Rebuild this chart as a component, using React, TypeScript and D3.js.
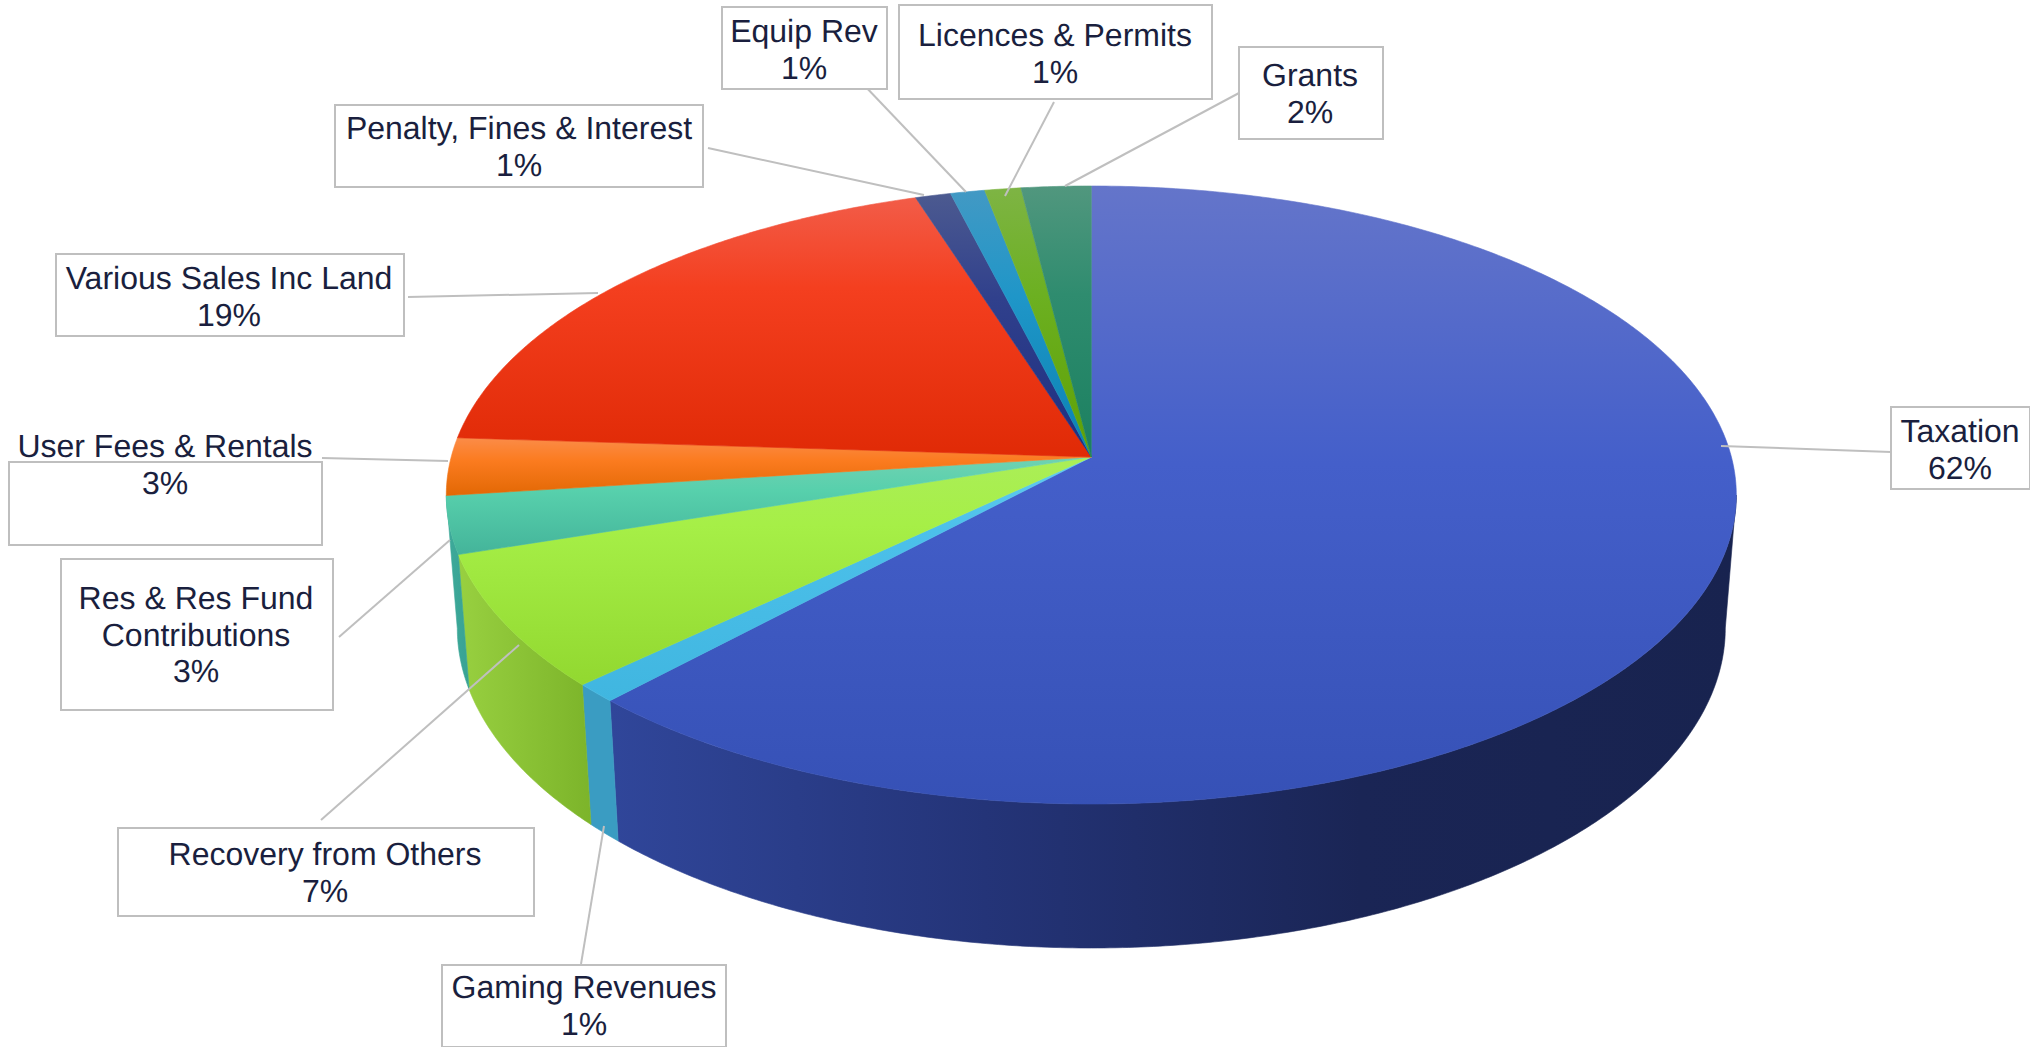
import React from "react";
import * as d3 from "d3";

// Revenue share by source, clockwise from twelve o'clock.
const categories = [
  "Taxation",
  "Gaming Revenues",
  "Recovery from Others",
  "Res & Res Fund Contributions",
  "User Fees & Rentals",
  "Various Sales Inc Land",
  "Penalty, Fines & Interest",
  "Equip Rev",
  "Licences & Permits",
  "Grants",
];
const shares = [62, 0.98, 7.03, 3, 3, 19.03, 1, 0.97, 1.02, 1.97];

// Colour ramps for each slice: top face [light, base, dark], rim [left ... right].
const faceRamps = [
  ["#6475ca", "#445fca", "#3651b6"],
  ["#62cdf0", "#4cc0ea", "#40b6e0"],
  ["#abee58", "#a6ef47", "#92d830"],
  ["#70d2b2", "#57d0ac", "#44b49a"],
  ["#fb8c48", "#fb7b1f", "#e26804"],
  ["#f25c48", "#f43f1f", "#e02a06"],
  ["#4c5a90", "#30408c", "#1d2e80"],
  ["#4299c4", "#1f96c8", "#0a82b2"],
  ["#7eb444", "#6cb021", "#5ea004"],
  ["#51977e", "#2f8c6f", "#1b8060"],
];
const rimRamps: string[][] = [
  ["#30469a", "#243478", "#1a2555", "#18234f"],
  ["#3a9cc2", "#3a9cc2"],
  ["#98d040", "#7cb42a"],
  ["#3eaa9a", "#38a294"],
];
const faceMidStop = [0.45, 0.3, 0.3, 0.35, 0.4, 0.35, 0.4, 0.4, 0.4, 0.4];

// Text lines of each callout, without the percentage line.
const labelLines = [
  ["Taxation"],
  ["Gaming Revenues"],
  ["Recovery from Others"],
  ["Res & Res Fund", "Contributions"],
  ["User Fees & Rentals"],
  ["Various Sales Inc Land"],
  ["Penalty, Fines & Interest"],
  ["Equip Rev"],
  ["Licences & Permits"],
  ["Grants"],
];

// Callout placement: box [x0, y0, x1, y1], text centre, first baseline, leader [x0, y0, x1, y1].
const calloutBoxes = [
  [1891, 407, 2030, 489],
  [442, 965, 726, 1047],
  [118, 828, 534, 916],
  [61, 559, 333, 710],
  [9, 462, 322, 545],
  [56, 254, 404, 336],
  [335, 105, 703, 187],
  [722, 7, 887, 89],
  [899, 5, 1212, 99],
  [1239, 47, 1383, 139],
];
const calloutText = [
  [1960, 442],
  [584, 998],
  [325, 865],
  [196, 609],
  [165, 457],
  [229, 289],
  [519, 139],
  [804, 42],
  [1055, 46],
  [1310, 86],
];
const calloutLeaders = [
  [1891, 452, 1721, 446],
  [581, 964, 604, 826],
  [321, 820, 519, 645],
  [339, 637, 450, 540],
  [322, 458, 448, 461],
  [408, 297, 598, 293],
  [708, 148, 924, 195],
  [863, 84, 966, 192],
  [1054, 102, 1005, 196],
  [1239, 93, 1065, 186],
];

// Geometry of the tilted disc and of the bottom rim.
const topEllipse = { cx: 1091.3, cy: 495, rx: 645, ry: 309 };
const baseEllipse = { cx: 1091.3, cy: 628, rx: 634, ry: 320 };
const tilt = -0.123; // perspective shift of the disc centre, in ellipse units
const rimFrom = Math.acos(tilt); // rim begins where the disc is widest

type Ell = typeof topEllipse;

// Projects a point of the unit disc (angle clockwise from the top, radius r) onto an ellipse.
function project(e: Ell, a: number, r = 1): [number, number] {
  const px = r * Math.sin(a);
  const py = -r * Math.cos(a);
  const w = 1 + tilt * py;
  const u = (px * Math.sqrt(1 - tilt * tilt)) / w;
  const v = (py + tilt) / w;
  return [e.cx + e.rx * u, e.cy + e.ry * v];
}

function arcPoints(e: Ell, a0: number, a1: number) {
  const n = Math.max(2, Math.ceil((Math.abs(a1 - a0) * 180) / Math.PI) * 2);
  return d3.range(n + 1).map((i) => project(e, a0 + ((a1 - a0) * i) / n));
}

const line = d3.line().curve(d3.curveLinear);
const pie = d3.pie<number>().sort(null).value((d) => d);

export default function App() {
  const arcs = pie(shares);
  const rimEnd = arcs[3].endAngle;

  return (
    <svg
      width={2030}
      height={1047}
      viewBox="0 0 2030 1047"
      style={{ position: "absolute", left: 0, top: 0, display: "block", background: "#fff" }}
      fontFamily="'Liberation Sans', Arial, sans-serif"
      textRendering="geometricPrecision"
    >
      <defs>
        {faceRamps.map((ramp, i) => (
          <linearGradient key={i} id={`face-${i}`} x1="0" y1="0" x2="0" y2="1">
            <stop offset="0" stopColor={ramp[0]} />
            <stop offset={faceMidStop[i]} stopColor={ramp[1]} />
            <stop offset="1" stopColor={ramp[2]} />
          </linearGradient>
        ))}
        {rimRamps.map((ramp, i) => (
          <linearGradient key={i} id={`rim-${i}`} x1="0" y1="0" x2="1" y2="0">
            {ramp.map((c, j) => (
              <stop key={j} offset={j / (ramp.length - 1)} stopColor={c} />
            ))}
          </linearGradient>
        ))}
      </defs>

      {/* Rim of the front-facing slices */}
      <g>
        {arcs.slice(0, 4).map((d, i) => {
          const a0 = Math.max(d.startAngle, rimFrom);
          const a1 = Math.min(d.endAngle, rimEnd);
          const pts = [...arcPoints(topEllipse, a0, a1), ...arcPoints(baseEllipse, a1, a0)];
          return (
            <path
              key={i}
              d={line(pts as [number, number][]) + "Z"}
              fill={`url(#rim-${i})`}
              stroke={`url(#rim-${i})`}
              strokeWidth={0.6}
            />
          );
        })}
      </g>

      {/* Top face */}
      <g>
        {arcs.map((d, i) => {
          const pts = [project(topEllipse, 0, 0), ...arcPoints(topEllipse, d.startAngle, d.endAngle)];
          return (
            <path
              key={i}
              d={line(pts as [number, number][]) + "Z"}
              fill={`url(#face-${i})`}
              stroke={`url(#face-${i})`}
              strokeWidth={0.6}
            />
          );
        })}
      </g>

      {/* Callouts */}
      <g>
        {categories.map((name, i) => {
          const [x0, y0, x1, y1] = calloutBoxes[i];
          const [tx, ty] = calloutText[i];
          const [lx0, ly0, lx1, ly1] = calloutLeaders[i];
          const rows = [...labelLines[i], `${Math.round(shares[i])}%`];
          return (
            <g key={name}>
              <line x1={lx0} y1={ly0} x2={lx1} y2={ly1} stroke="#bfbfbf" strokeWidth={2} />
              <rect
                x={x0}
                y={y0}
                width={x1 - x0}
                height={y1 - y0}
                fill={i === 4 ? "none" : "#fff"}
                stroke="#bfbfbf"
                strokeWidth={2}
              />
              <text x={tx} y={ty} textAnchor="middle" fontSize={32} fill="#1a1f3e">
                {rows.map((row, j) => (
                  <tspan key={j} x={tx} y={ty + j * 36.5}>
                    {row}
                  </tspan>
                ))}
              </text>
            </g>
          );
        })}
      </g>
    </svg>
  );
}
